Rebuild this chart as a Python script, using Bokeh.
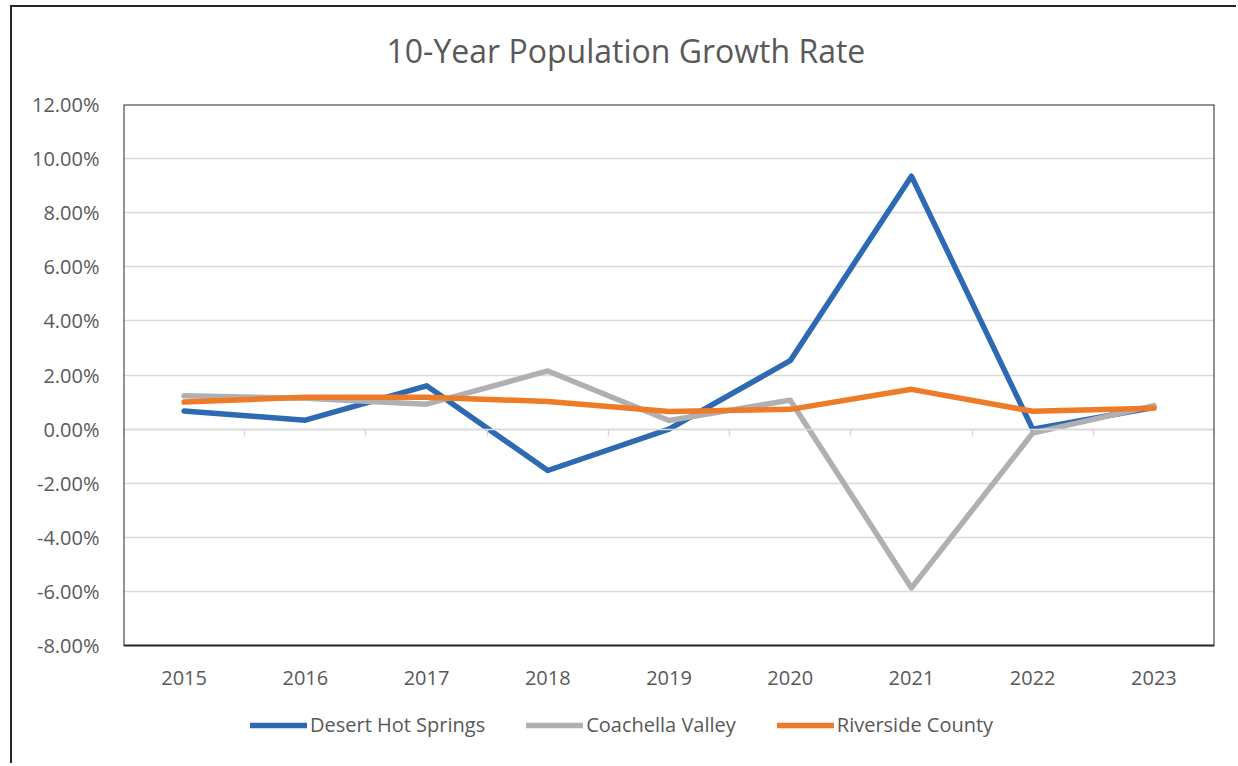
from bokeh.plotting import figure
from bokeh.models import (Range1d, FixedTicker, LinearAxis, PrintfTickFormatter,
                          Legend, LegendItem, Title, BoxAnnotation)
from bokeh.core.properties import value
from bokeh.embed import file_html
from bokeh.resources import INLINE

years = [2015, 2016, 2017, 2018, 2019, 2020, 2021, 2022, 2023]
year_labels = ["2015", "2016", "2017", "2018", "2019", "2020", "2021", "2022", "2023"]
desert_hot_springs = [0.67, 0.33, 1.60, -1.53, 0.00, 2.53, 9.35, 0.00, 0.80]
coachella_valley = [1.23, 1.14, 0.92, 2.15, 0.32, 1.07, -5.87, -0.15, 0.87]
riverside_county = [1.00, 1.18, 1.18, 1.02, 0.65, 0.73, 1.47, 0.66, 0.77]
y_ticks = [-8, -6, -4, -2, 0, 2, 4, 6, 8, 10, 12]
series_names = ["Desert Hot Springs", "Coachella Valley", "Riverside County"]
colors = ["#2E69B3", "#B0B0B2", "#EE7B28"]

FONT = "Open Sans"
TXT = "#595959"
GRID = "#D9D9D9"

x_start = years[0] - 0.5
x_end = years[-1] + 0.5

px_per_unit = 541 / (y_ticks[-1] - y_ticks[0])
extra_below = 109
y_bottom = y_ticks[0] - extra_below / px_per_unit

p = figure(frame_width=1091, frame_height=541 + extra_below,
           min_border_left=111, min_border_right=22,
           min_border_top=97, min_border_bottom=9,
           x_range=Range1d(x_start, x_end),
           y_range=Range1d(y_bottom, y_ticks[-1]),
           output_backend="svg", toolbar_location=None,
           x_axis_location=None, y_axis_location=None)

p.styles = {"border-left": "2px solid #262626", "border-top": "2px solid #262626",
            "margin-left": "10px", "margin-top": "5px"}

p.outline_line_color = None
p.background_fill_color = "white"
p.border_fill_color = "white"

p.title.text = "10-Year Population Growth Rate"
p.title.align = "left"
p.title.offset = 263
p.title.text_font = FONT
p.title.text_font_size = "32px"
p.title.text_font_style = "normal"
p.title.text_color = TXT
p.title.standoff = 0

spacer = Title(text=" ", text_font_size="1px", standoff=30)
p.add_layout(spacer, "above")

yaxis = LinearAxis(ticker=FixedTicker(ticks=y_ticks),
                   formatter=PrintfTickFormatter(format="%.2f%%"))
yaxis.axis_line_color = None
yaxis.major_tick_line_color = None
yaxis.major_tick_out = 0
yaxis.minor_tick_line_color = None
yaxis.major_label_standoff = 24
yaxis.major_label_text_font = FONT
yaxis.major_label_text_font_size = "20px"
yaxis.major_label_text_color = TXT
p.add_layout(yaxis, "left")

boundaries = [x_start + i for i in range(len(years) + 1)]
zaxis = LinearAxis(ticker=FixedTicker(ticks=boundaries), fixed_location=0)
zaxis.axis_line_color = GRID
zaxis.axis_line_width = 1.5
zaxis.major_tick_line_color = GRID
zaxis.major_tick_line_width = 1.5
zaxis.major_tick_in = 0
zaxis.major_tick_out = 7
zaxis.minor_tick_line_color = None
zaxis.minor_tick_out = 0
zaxis.major_label_standoff = 0
zaxis.major_label_text_font_size = "1px"
zaxis.major_label_overrides = {b: "" for b in boundaries}
p.add_layout(zaxis, "below")

p.xgrid.visible = False
p.ygrid.ticker = FixedTicker(ticks=y_ticks)
p.ygrid.grid_line_color = GRID
p.ygrid.grid_line_width = 1.5

# Plot-area box (drawn on top so it is visible)
box = BoxAnnotation(left=x_start, right=x_end, bottom=y_ticks[0], top=y_ticks[-1],
                    fill_alpha=0, fill_color=None, line_color="#262626", line_width=2,
                    line_alpha=1.0)
p.add_layout(box)

p.text(x=years, y=[y_ticks[0]] * len(years), text=year_labels,
       text_font=value(FONT), text_font_size="20px", text_color=TXT,
       text_align="center", text_baseline="middle", y_offset=32)

renderers = []
for vals, c in zip([desert_hot_springs, coachella_valley, riverside_county], colors):
    r = p.line(years, vals, line_color=c, line_width=5.5,
               line_join="round", line_cap="round")
    renderers.append(r)

legend = Legend(items=[LegendItem(label=n, renderers=[r]) for n, r in zip(series_names, renderers)],
                orientation="horizontal", location=(127, 16))
legend.glyph_width = 57
legend.glyph_height = 20
legend.label_height = 20
legend.label_standoff = 3
legend.spacing = 41
legend.padding = 0
legend.margin = 0
legend.border_line_color = None
legend.background_fill_alpha = 0
legend.label_text_font = FONT
legend.label_text_font_size = "20px"
legend.label_text_color = TXT
p.add_layout(legend, "center")

open("out.html", "w").write(file_html(p, INLINE))
